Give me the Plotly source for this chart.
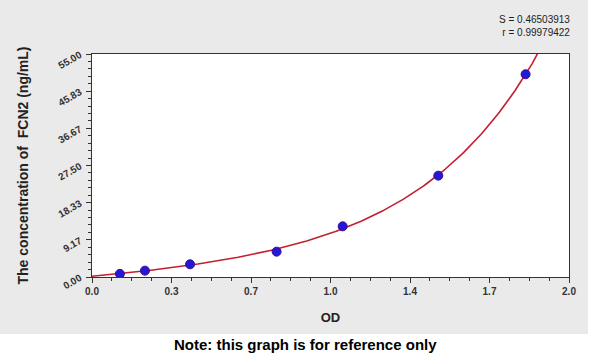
import numpy as np
import plotly.graph_objects as go

# Standard points
od = [0.117, 0.222, 0.411, 0.774, 1.051, 1.452, 1.818]
conc = [0.78, 1.56, 3.13, 6.25, 12.5, 25.0, 50.0]

x_tickvals = [0, 1/3, 2/3, 1.0, 4/3, 5/3, 2.0]
x_ticktext = ["0.0", "0.3", "0.7", "1.0", "1.4", "1.7", "2.0"]
y_tickvals = [0, 55/6, 110/6, 27.5, 220/6, 275/6, 55]
y_ticktext = ["0.00", "9.17", "18.33", "27.50", "36.67", "45.83", "55.00"]

stats_text = "S = 0.46503913<br>r = 0.99979422"

# smooth fitted standard curve: y = a*(exp(b x)-1) + c*x + d, least squares
xo = np.array(od)
yo = np.array(conc)
best = None
for b in np.linspace(0.5, 4.0, 351):
    A = np.column_stack([np.exp(b * xo) - 1, xo, np.ones_like(xo)])
    sol, res, *_ = np.linalg.lstsq(A, yo, rcond=None)
    err = np.sum((A @ sol - yo) ** 2)
    if best is None or err < best[0]:
        best = (err, b, sol)
_, bb, (aa, cc, dd) = best
xs = np.linspace(0, 1.95, 300)
ys = aa * (np.exp(bb * xs) - 1) + cc * xs + dd

fig = go.Figure()
fig.add_trace(go.Scatter(x=xs, y=ys, mode="lines",
                         line=dict(color="#c41e30", width=1.6),
                         hoverinfo="skip", showlegend=False))
fig.add_trace(go.Scatter(x=od, y=conc, mode="markers",
                         marker=dict(color="#2418d8", size=9,
                                     line=dict(color="#3a0a8a", width=1)),
                         showlegend=False))

L, R, T, B = 92, 31, 54, 80
W, H = 600, 357
pw, ph = W - L - R, H - T - B

def px_x(p):
    return (p - L) / pw

def px_y(p):
    return (H - B - p) / ph

fig.update_layout(
    width=W, height=H,
    margin=dict(l=L, r=R, t=T, b=B),
    paper_bgcolor="#eaeaea",
    plot_bgcolor="#ffffff",
    font=dict(family="Liberation Sans, Arial, sans-serif", color="#222222"),
    shapes=[
        dict(type="rect", xref="paper", yref="paper", layer="below",
             x0=px_x(-5), x1=px_x(W + 5), y0=px_y(334), y1=px_y(H + 5),
             fillcolor="#ffffff", line=dict(width=0)),
        dict(type="rect", xref="paper", yref="paper", layer="below",
             x0=px_x(588), x1=px_x(W + 5), y0=px_y(-5), y1=px_y(H + 5),
             fillcolor="#ffffff", line=dict(width=0)),
    ],
    annotations=[
        dict(text=stats_text, xref="paper", yref="paper",
             x=px_x(572), y=px_y(12), xanchor="right", yanchor="top",
             align="right", showarrow=False,
             font=dict(size=10, color="#222222")),
        dict(text="<b>Note: this graph is for reference only</b>",
             xref="paper", yref="paper", x=px_x(305), y=px_y(344),
             xanchor="center", yanchor="middle", showarrow=False,
             font=dict(size=15, color="#000000")),
    ],
)

fig.update_xaxes(
    range=[0, 2], tickmode="array", tickvals=x_tickvals,
    ticktext=["<b>%s</b>" % t for t in x_ticktext],
    ticks="outside", ticklen=5, tickcolor="#333333",
    showline=True, linecolor="#333333", linewidth=1, mirror=True,
    showgrid=False, zeroline=False,
    tickfont=dict(size=10, color="#333333", family="Liberation Sans, Arial"),
    minor=dict(ticks="outside", ticklen=3, tick0=0, dtick=1/12, tickcolor="#333333"),
    title=dict(text="<b>OD</b>", font=dict(size=13, color="#222222"), standoff=16),
)
fig.update_yaxes(
    range=[0, 55], tickmode="array", tickvals=y_tickvals,
    ticktext=["<b>%s</b>" % t for t in y_ticktext],
    ticks="outside", ticklen=5, tickcolor="#333333", tickangle=-30,
    ticklabelstandoff=4,
    showline=True, linecolor="#333333", linewidth=1, mirror=True,
    showgrid=False, zeroline=False,
    tickfont=dict(size=10, color="#333333", family="Liberation Sans, Arial"),
    minor=dict(ticks="outside", ticklen=3, tick0=0, dtick=55/30, tickcolor="#333333"),
    title=dict(text="<b>The concentration of  FCN2 (ng/mL)</b>",
               font=dict(size=14, color="#222222"), standoff=24),
)

fig.write_html("out.html")
